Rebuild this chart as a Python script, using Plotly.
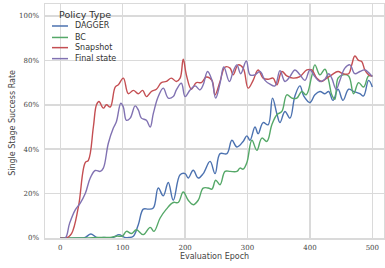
import plotly.graph_objects as go

# ---- data ----
dagger_epoch = [0, 30, 40, 49, 58, 70, 85, 94, 103, 110, 117, 125, 133, 141, 149, 157, 165, 173, 181, 192, 200, 205, 213, 221, 229, 240, 248, 256, 267, 275, 283, 293, 299, 304, 312, 317, 325, 333, 340, 347, 352, 360, 368, 376, 384, 390, 400, 408, 416, 424, 430, 437, 445, 453, 462, 470, 480, 486, 494, 500]
dagger_rate = [0, 0, 0.3, 1.8, 0.3, 0.2, 0.3, 1.5, 0.3, 0.2, 0.8, 6, 13, 13, 13.5, 22.5, 19, 25, 17, 28.5, 29, 27, 30.5, 27, 29, 34.5, 29, 38, 38, 44, 41, 43.5, 46, 44, 50, 47, 52, 51, 63, 56, 52, 57, 54, 64, 68.5, 64, 61, 64.5, 66, 65, 66, 62, 67, 62, 67, 66, 65, 64, 71, 68]

bc_epoch = [0, 40, 60, 80, 90, 100, 106, 114, 122, 133, 144, 150, 160, 170, 181, 189, 197, 205, 213, 221, 229, 237, 243, 249, 256, 264, 272, 283, 288, 293, 299, 307, 315, 323, 331, 339, 347, 355, 363, 371, 379, 387, 394, 403, 408, 416, 424, 430, 435, 440, 445, 453, 462, 470, 478, 486, 494, 500]
bc_rate = [0, 0, 0.2, 0.3, 0.8, 1, 3, 2, 3.7, 1.5, 4.8, 3, 9, 13, 16, 16, 20.7, 17, 15, 17, 22.5, 22.5, 22, 26, 24, 30, 30, 30, 31.5, 31, 34, 44, 39.5, 45, 43.5, 51, 55.5, 57, 64.5, 63, 63, 66, 64.5, 73, 78, 73.5, 76, 71, 64.5, 62.5, 72, 73.5, 73, 65, 70, 68, 73, 73]

snap_epoch = [0, 10, 18, 29, 40, 45, 53, 58, 62, 69, 74, 80, 88, 93, 101, 109, 117, 125, 132, 138, 146, 154, 162, 170, 178, 186, 192, 197, 202, 210, 218, 226, 234, 243, 248, 256, 264, 272, 277, 285, 293, 301, 309, 317, 325, 333, 341, 347, 355, 363, 373, 384, 395, 403, 411, 419, 427, 435, 445, 453, 462, 467, 472, 478, 483, 488, 494, 500]
snap_rate = [0, 0, 2, 14, 34, 35, 50, 60, 61.5, 58.5, 60, 59, 68, 69, 72, 65, 66.5, 65, 66.5, 63.7, 66, 67, 70, 70.5, 72, 70.5, 72, 80.5, 73.5, 67, 70, 70, 72.5, 71, 64.5, 70.5, 77, 76.5, 73.5, 78, 76.5, 67.5, 71, 75.7, 72, 71.5, 72, 69, 75, 73, 72, 72.7, 75.7, 75.7, 72, 70.5, 72, 73.5, 75, 74, 74, 78, 82, 80, 79.5, 75.7, 73.5, 73]

final_epoch = [0, 8, 15, 24, 32, 40, 48, 56, 64, 69, 77, 85, 90, 97, 101, 106, 112, 120, 125, 130, 138, 144, 149, 157, 165, 173, 181, 186, 194, 200, 208, 216, 224, 229, 236, 243, 249, 256, 262, 271, 277, 283, 289, 298, 304, 312, 320, 328, 336, 344, 352, 360, 368, 376, 384, 392, 400, 408, 416, 424, 430, 435, 442, 448, 456, 464, 472, 480, 488, 494, 500]
final_rate = [0, 0, 6.7, 12.7, 15.7, 20, 27, 30.4, 30, 31.5, 42.7, 49.5, 52.5, 60.7, 59, 53, 54, 59.5, 57.7, 54, 53, 50, 56, 63.7, 67.5, 63, 63.7, 66.7, 69.7, 63.7, 66.7, 68.5, 66.7, 69, 75, 71, 63, 69.7, 77, 70.5, 75, 78, 74, 79.7, 73.5, 73.5, 75, 71, 69.3, 68.5, 75.4, 70.5, 72.7, 75.7, 73.5, 71, 75.7, 72.7, 70.5, 71.5, 74, 72, 67, 71, 76.5, 78, 74, 75, 75.7, 74.5, 72.7]

series_names = ["DAGGER", "BC", "Snapshot", "Final state"]
series_x = [dagger_epoch, bc_epoch, snap_epoch, final_epoch]
series_y = [dagger_rate, bc_rate, snap_rate, final_rate]
series_colors = ["#4C72B0", "#55A868", "#C44E52", "#8172B2"]

legend_title = "Policy Type"
x_title = "Evaluation Epoch"
y_title = "Single Stage Success Rate"
x_ticks = [0, 100, 200, 300, 400, 500]
y_ticks = [0, 0.2, 0.4, 0.6, 0.8, 1.0]
y_tick_labels = ["0%", "20%", "40%", "60%", "80%", "100%"]

fig = go.Figure()
for name, xs, ys, col in zip(series_names, series_x, series_y, series_colors):
    fig.add_trace(go.Scatter(
        x=xs, y=[v / 100 for v in ys], name=name, mode="lines",
        line=dict(color=col, width=1.4, shape="spline", smoothing=1.1),
        showlegend=False, hoverinfo="skip",
    ))

# compact legend (matplotlib-like spacing), drawn in paper coordinates
leg_y = [0.906, 0.857, 0.8135, 0.7665]
shapes = []
annotations = [dict(
    x=0.0354, y=0.953, xref="paper", yref="paper", xanchor="left", yanchor="middle",
    text=legend_title, showarrow=False, font=dict(size=9.5, color="#333333"),
)]
for name, col, ly in zip(series_names, series_colors, leg_y):
    shapes.append(dict(type="line", xref="paper", yref="paper",
                       x0=0.0206, x1=0.0678, y0=ly, y1=ly,
                       line=dict(color=col, width=1.5)))
    annotations.append(dict(
        x=0.0826, y=ly, xref="paper", yref="paper", xanchor="left", yanchor="middle",
        text=name, showarrow=False, font=dict(size=8, color="#333333"),
    ))
# y-axis title placed like matplotlib's
annotations.append(dict(
    x=-0.0944, y=0.492, xref="paper", yref="paper", xanchor="center", yanchor="middle",
    text=y_title, textangle=-90, showarrow=False, font=dict(size=8, color="#444444"),
))

grid_col = "#dadada"
fig.update_layout(
    width=385, height=268,
    margin=dict(l=45, r=1, t=4, b=30, autoexpand=False),
    paper_bgcolor="white", plot_bgcolor="white",
    font=dict(family="DejaVu Sans", size=8, color="#444444"),
    showlegend=False,
    shapes=shapes, annotations=annotations,
    xaxis=dict(
        range=[-24.5, 518.7], tickvals=x_ticks, ticktext=[str(t) for t in x_ticks],
        showgrid=True, gridcolor=grid_col, gridwidth=1.5, automargin=False,
        zeroline=False, showline=True, linecolor=grid_col, linewidth=1.5, mirror=True,
        ticks="", ticklabelstandoff=2,
        tickfont=dict(family="DejaVu Serif", size=7, color="#444444"),
        title=dict(text=x_title, font=dict(size=8, color="#444444"), standoff=2),
    ),
    yaxis=dict(
        range=[0, 1.054], tickvals=y_ticks, ticktext=y_tick_labels,
        showgrid=True, gridcolor=grid_col, gridwidth=1.5, automargin=False,
        zeroline=False, showline=True, linecolor=grid_col, linewidth=1.5, mirror=True,
        ticks="", ticklabelstandoff=3,
        tickfont=dict(family="DejaVu Serif", size=7, color="#444444"),
    ),
)

fig.write_html(
    "out.html",
    config={"displayModeBar": False, "staticPlot": True},
    post_script="document.body.style.margin='0';document.body.style.overflow='hidden';",
)
